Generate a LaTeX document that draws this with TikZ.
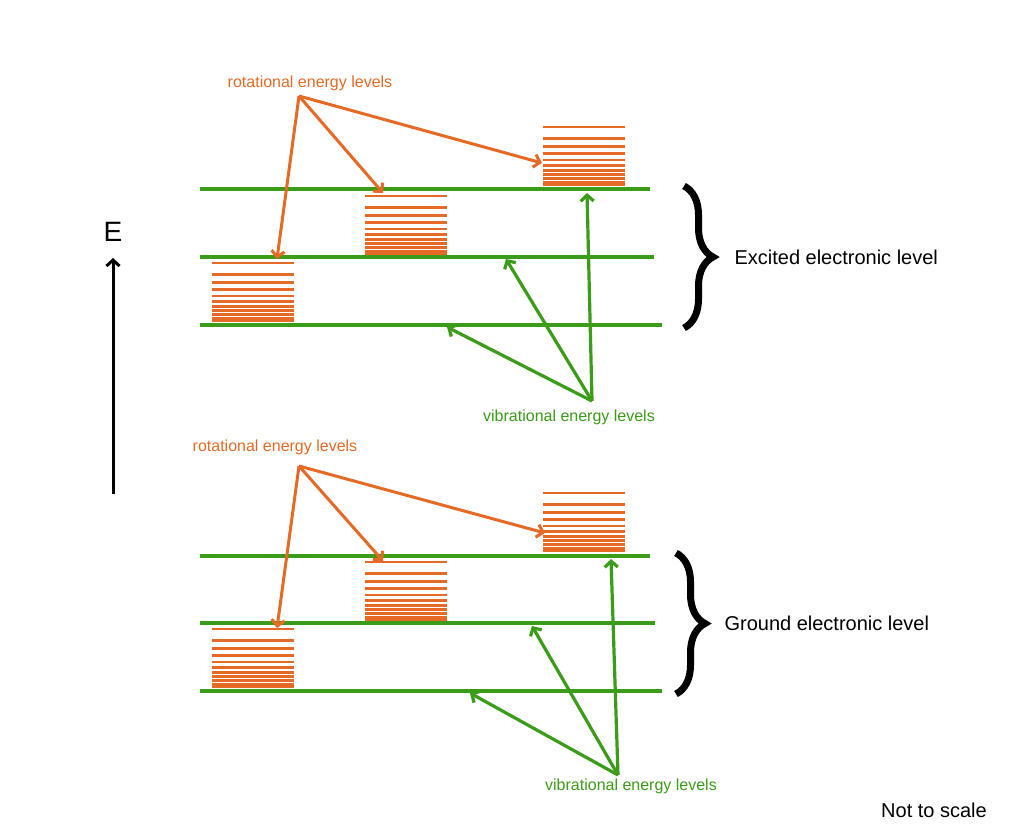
\documentclass[tikz,border=0pt]{standalone}
\usepackage{fontspec}
\setmainfont{Liberation Sans}
\usepackage{tikz}
\usetikzlibrary{arrows.meta}
\usetikzlibrary{decorations.pathreplacing}

\definecolor{rotorange}{RGB}{228,106,38}
\definecolor{vibgreen}{RGB}{58,156,24}

\begin{document}
\begin{tikzpicture}[x=1pt,y=-1pt,>={Straight Barb[length=6pt,width=13pt]},
  viblevel/.style={vibgreen,line width=4.6pt},
  rotlevel/.style={rotorange,line width=2.6pt},
  rotarrow/.style={rotorange,line width=3pt,->},
  vibarrow/.style={vibgreen,line width=3.2pt,->},
  rotlabel/.style={text=rotorange,font=\fontsize{16}{18}\selectfont},
  viblabel/.style={text=vibgreen,font=\fontsize{16}{18}\selectfont},
  bigtext/.style={font=\fontsize{20}{24}\selectfont},
  bracket/.style={line width=7pt,decorate,decoration={brace,amplitude=29pt}}]
  \useasboundingbox (0,0) rectangle (1024,836);

  % energy axis
  \node[font=\fontsize{28}{30}\selectfont] (E) at (113,232) {E};
  \coordinate (Ebot) at (113,494);\coordinate (Etop) at (113,258);
  \draw[line width=3pt,->] (Ebot) -- (Etop);

  % vibrational levels
  \draw[viblevel] (200,189) -- (650,189);\draw[viblevel] (200,257) -- (654,257);\draw[viblevel] (200,325) -- (662,325);
  \draw[viblevel] (200,556) -- (650,556);\draw[viblevel] (200,623) -- (655,623);\draw[viblevel] (200,691) -- (662,691);

  % rotational levels
  \foreach \sx/\sy in {212/263,365/196,543/127,212/629,365/562,543/493}
    \foreach \dy in {0,11.3,19.7,26.3,33,38.3,43.3,47.7,51.7,55,57.3}
      \draw[rotlevel] (\sx,\sy+\dy) -- (\sx+82,\sy+\dy);

  % excited state
  \node[rotlabel] (rotA) at (310,83) {rotational energy levels};
  \coordinate (rotAsrc) at (299,96);
  \coordinate (rotA1) at (277,259);\coordinate (rotA2) at (383,193);\coordinate (rotA3) at (542,163);
  \draw[rotarrow] (rotAsrc) -- (rotA1);\draw[rotarrow] (rotAsrc) -- (rotA2);\draw[rotarrow] (rotAsrc) -- (rotA3);
  \node[viblabel] (vibA) at (569,417) {vibrational energy levels};
  \coordinate (vibAsrc) at (592,401);
  \coordinate (vibA1) at (587,193);\coordinate (vibA2) at (506,259);\coordinate (vibA3) at (447,327);
  \draw[vibarrow] (vibAsrc) -- (vibA1);\draw[vibarrow] (vibAsrc) -- (vibA2);\draw[vibarrow] (vibAsrc) -- (vibA3);
  \coordinate (braceAtop) at (684,186);\coordinate (braceAbot) at (684,328);
  \draw[bracket] (braceAtop) -- (braceAbot);
  \node[bigtext,anchor=west] (excited) at (731,257) {Excited electronic level};

  % ground state
  \node[rotlabel] (rotB) at (275,447) {rotational energy levels};
  \coordinate (rotBsrc) at (299,466);
  \coordinate (rotB1) at (277,628);\coordinate (rotB2) at (383,561);\coordinate (rotB3) at (545,533);
  \draw[rotarrow] (rotBsrc) -- (rotB1);\draw[rotarrow] (rotBsrc) -- (rotB2);\draw[rotarrow] (rotBsrc) -- (rotB3);
  \node[viblabel] (vibB) at (631,786) {vibrational energy levels};
  \coordinate (vibBsrc) at (618,775);
  \coordinate (vibB1) at (611,559);\coordinate (vibB2) at (532,626);\coordinate (vibB3) at (470,693);
  \draw[vibarrow] (vibBsrc) -- (vibB1);\draw[vibarrow] (vibBsrc) -- (vibB2);\draw[vibarrow] (vibBsrc) -- (vibB3);
  \coordinate (braceBtop) at (676,553);\coordinate (braceBbot) at (676,694);
  \draw[bracket] (braceBtop) -- (braceBbot);
  \node[bigtext,anchor=west] (ground) at (721,623) {Ground electronic level};

  \node[bigtext] (noscale) at (934,810) {Not to scale};
\end{tikzpicture}
\end{document}
